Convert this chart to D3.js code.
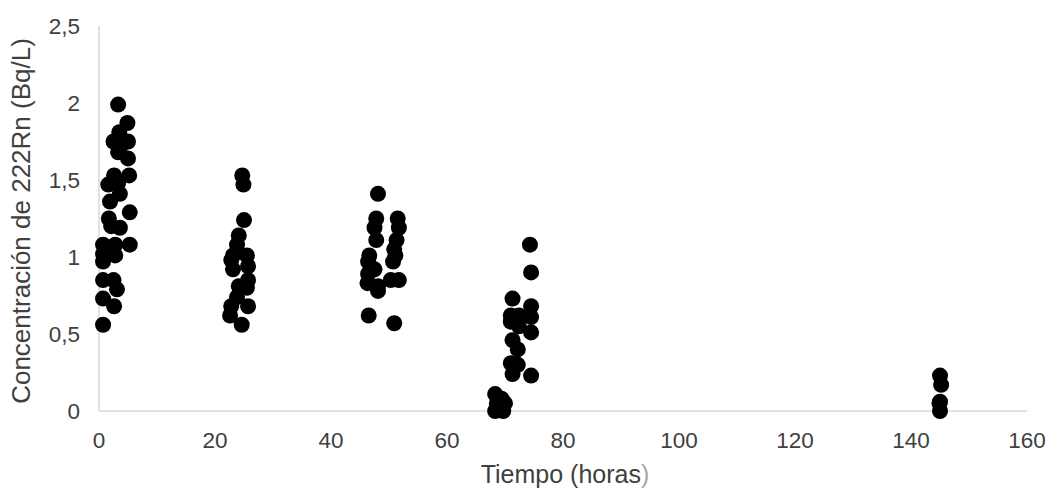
<!DOCTYPE html>
<html><head><meta charset="utf-8">
<script src="https://cdn.jsdelivr.net/npm/d3@7"></script>
<style>body{margin:0;background:#fff}svg{display:block}text{font-family:"Liberation Sans",Arial,sans-serif;fill:#404040}</style>
</head><body><svg id="c" width="1050" height="492"></svg>
<script>
const xTicks=[0,20,40,60,80,100,120,140,160];
const yTicks=[0,0.5,1,1.5,2,2.5];
const yTickLabels=["0","0,5","1","1,5","2","2,5"];
const timeH=[
3.3,4.9,3.5,2.5,5.0,3.9,3.3,5.0,2.6,5.2,1.6,3.3,3.6,1.9,5.3,1.7,2.1,3.6,0.7,2.8,5.3,0.7,2.8,0.7,0.7,2.5,3.1,0.7,2.6,0.7,
24.7,24.9,25.0,24.1,23.8,23.1,25.5,22.8,25.7,23.1,25.7,24.1,25.5,23.8,22.8,25.7,22.6,24.6,
48.1,47.8,51.5,47.5,51.7,47.8,51.3,50.9,46.6,51.1,46.4,50.7,47.5,46.4,46.3,48.1,50.3,51.7,48.1,46.5,50.9,
74.3,74.5,71.3,74.5,71.0,72.4,74.5,71.0,72.4,74.5,71.3,72.2,71.0,72.2,71.3,74.5,68.3,69.4,68.6,70.0,68.3,69.7,
145.0,145.2,145.0,144.9,145.0];
const conc=[
1.99,1.87,1.81,1.75,1.75,1.73,1.68,1.64,1.53,1.53,1.47,1.48,1.41,1.36,1.29,1.25,1.20,1.19,1.08,1.08,1.08,1.02,1.01,0.97,0.85,0.85,0.79,0.73,0.68,0.56,
1.53,1.47,1.24,1.14,1.08,1.01,1.01,0.98,0.94,0.92,0.85,0.81,0.80,0.74,0.68,0.68,0.62,0.56,
1.41,1.25,1.25,1.19,1.19,1.11,1.11,1.05,1.01,1.01,0.97,0.97,0.92,0.89,0.83,0.81,0.85,0.85,0.78,0.62,0.57,
1.08,0.90,0.73,0.68,0.62,0.62,0.61,0.58,0.55,0.51,0.46,0.40,0.31,0.30,0.24,0.23,0.11,0.08,0.05,0.05,0.00,0.00,
0.23,0.17,0.06,0.05,0.00];
const xTitle="Tiempo (horas";
const yTitle="Concentración de 222Rn (Bq/L)";

const svg=d3.select("#c");
const x=d3.scaleLinear().domain([0,160]).range([99,1027]);
const y=d3.scaleLinear().domain([0,2.5]).range([411,26]);

svg.append("line").attr("x1",x(0)).attr("x2",x(0)).attr("y1",y(0)).attr("y2",y(2.5)).attr("stroke","#d9d9d9").attr("stroke-width",1.5);
svg.append("line").attr("x1",x(0)).attr("x2",x(160)).attr("y1",y(0)).attr("y2",y(0)).attr("stroke","#d9d9d9").attr("stroke-width",1.5);

svg.selectAll(".xt").data(xTicks).enter().append("text").attr("x",d=>x(d)).attr("y",448)
 .attr("text-anchor","middle").attr("font-size",22.5).text(d=>d);
svg.selectAll(".yt").data(yTicks).enter().append("text").attr("x",80).attr("y",d=>y(d)+8)
 .attr("text-anchor","end").attr("font-size",22.5).text((d,i)=>yTickLabels[i]);

const xt=svg.append("text").attr("x",565).attr("y",483).attr("text-anchor","middle").attr("font-size",25);
xt.append("tspan").text(xTitle);
xt.append("tspan").style("fill","#a6a6a6").text(")");
svg.append("text").attr("transform","translate(30,221) rotate(-90)").attr("text-anchor","middle").attr("font-size",26).text(yTitle);

svg.selectAll("circle").data(timeH).enter().append("circle")
 .attr("cx",d=>x(d)).attr("cy",(d,i)=>y(conc[i])).attr("r",8).attr("fill","#000");
</script></body></html>
